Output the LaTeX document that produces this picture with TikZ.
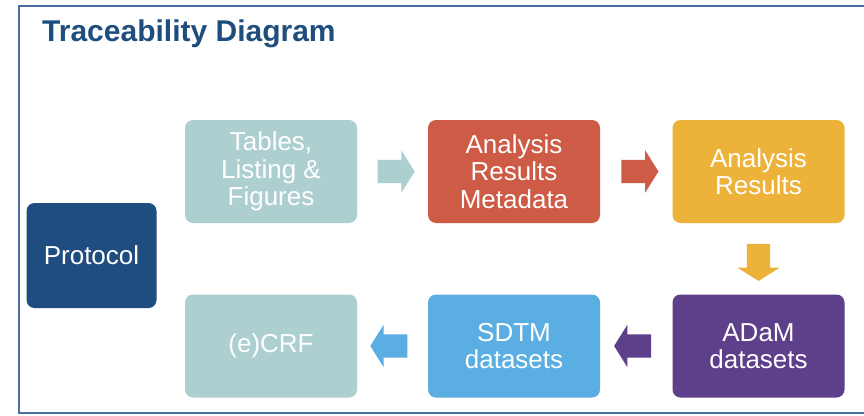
\documentclass[tikz,border=0pt]{standalone}
\usepackage{fontspec}
\setmainfont{Liberation Sans}
\usetikzlibrary{shapes.arrows,calc}
\definecolor{frameblue}{HTML}{4A6FA3}
\definecolor{titleblue}{HTML}{1F4E7E}
\definecolor{tealbox}{HTML}{ADCFCF}
\definecolor{redbox}{HTML}{CD5B45}
\definecolor{yellowbox}{HTML}{EDB23A}
\definecolor{protblue}{HTML}{1F4D80}
\definecolor{skybox}{HTML}{5AAEE2}
\definecolor{purplebox}{HTML}{5D3F8A}
\tikzset{
  box/.style={rounded corners=8pt, minimum width=172pt, minimum height=103pt,
    inner sep=0pt, align=center, text=white,
    font=\fontsize{26}{27.5}\selectfont},
  blockarrow/.style={single arrow, draw=none, minimum height=37pt,
    minimum width=42pt, inner sep=0pt, inner ysep=11.5pt,
    single arrow head extend=9.5pt, single arrow tip angle=116},
}
\begin{document}
\begin{tikzpicture}[x=1pt,y=-1pt]
\useasboundingbox (0,0) rectangle (864,415);
\fill[white] (0,0) rectangle (864,415);
\draw[frameblue, line width=2pt] (868,6) -- (19,6) -- (19,413) -- (868,413);
\node[anchor=base west, inner sep=0pt, text=titleblue,
  font=\fontsize{30}{33}\bfseries\selectfont] (title) at (42,41) {Traceability Diagram};

\node[box, fill=protblue, minimum width=130pt, minimum height=105pt] (prot) at (91.5,255.5) {Protocol};
\node[box, fill=tealbox] (tlf) at (271,171.5) {Tables,\\Listing \&\\Figures};
\node[box, fill=redbox] (arm) at (514,171.5) {Analysis\\Results\\Metadata};
\node[box, fill=yellowbox] (ar) at (758.5,171.5) {Analysis\\Results};
\node[box, fill=purplebox] (adam) at (758.5,346) {ADaM\\datasets};
\node[box, fill=skybox] (sdtm) at (514,346) {SDTM\\datasets};
\node[box, fill=tealbox] (ecrf) at (271,346) {(e)CRF};

\node[blockarrow, fill=tealbox] (a1) at ($(tlf.east)!0.5!(arm.west)$) {};
\node[blockarrow, fill=redbox] (a2) at ($(arm.east)!0.5!(ar.west)$) {};
\node[blockarrow, fill=yellowbox, rotate=-90] (a3) at ($(ar.south)!0.5!(adam.north)$) {};
\node[blockarrow, fill=purplebox, rotate=180] (a4) at ($(adam.west)!0.5!(sdtm.east)$) {};
\node[blockarrow, fill=skybox, rotate=180] (a5) at ($(sdtm.west)!0.5!(ecrf.east)$) {};
\end{tikzpicture}
\end{document}
